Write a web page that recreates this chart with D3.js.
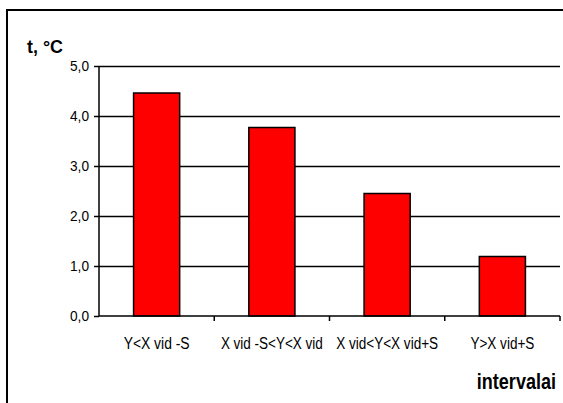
<!DOCTYPE html>
<html><head><meta charset="utf-8">
<script src="https://cdn.jsdelivr.net/npm/d3@7"></script>
<style>html,body{margin:0;padding:0;background:#fff;}svg{display:block;}</style>
</head><body>
<script>
const categories = ["Y<X vid -S", "X vid -S<Y<X vid", "X vid<Y<X vid+S", "Y>X vid+S"];
const values = [4.46, 3.77, 2.45, 1.19];
const yTicks = [0, 1, 2, 3, 4, 5];
const yTitle = "t, °C";
const xTitle = "intervalai";

const W = 563, H = 403;
const m = {left: 99, right: 560, top: 66, bottom: 316};
const FONT = "'Liberation Sans', Arial, sans-serif";
const svg = d3.select("body").append("svg").attr("width", W).attr("height", H);
svg.append("rect").attr("width", W).attr("height", H).attr("fill", "#fff");

// outer frame (extends beyond window at right/bottom)
svg.append("path").attr("d", `M7,${H+5} L7,10 L${W+5},10`).attr("fill", "none")
  .attr("stroke", "#000").attr("stroke-width", 2);

const x = d3.scaleBand().domain(categories).range([m.left, m.right]).paddingInner(0.6).paddingOuter(0.3);
const y = d3.scaleLinear().domain([0, 5]).range([m.bottom, m.top]);

// gridlines via axis
const grid = svg.append("g").attr("transform", `translate(${m.left},0)`)
  .call(d3.axisLeft(y).tickValues(yTicks.filter(d => d > 0)).tickSize(-(m.right - m.left)).tickFormat(""));
grid.select(".domain").remove();
grid.selectAll(".tick line").attr("stroke", "#000").attr("stroke-width", 1.5);

// bars
svg.append("g").selectAll("rect").data(values).join("rect")
  .attr("x", (d, i) => x(categories[i]))
  .attr("width", x.bandwidth())
  .attr("y", d => y(d))
  .attr("height", d => y(0) - y(d))
  .attr("fill", "#ff0000").attr("stroke", "#000").attr("stroke-width", 1.5);

// y axis
const yAxis = d3.axisLeft(y).tickValues(yTicks).tickSize(5).tickPadding(5)
  .tickFormat(d => d3.format(".1f")(d).replace(".", ","));
const gy = svg.append("g").attr("transform", `translate(${m.left},0)`).call(yAxis);
gy.select(".domain").attr("stroke", "#000").attr("stroke-width", 1.5).attr("d", `M0,${m.top}V${m.bottom}`);
gy.selectAll(".tick line").attr("stroke", "#000").attr("stroke-width", 1.5);
gy.selectAll(".tick text").attr("font-family", FONT)
  .attr("font-size", 15).attr("fill", "#000")
  .attr("textLength", 19).attr("lengthAdjust", "spacingAndGlyphs");

// x axis
const xBound = d3.scaleLinear().domain([0, categories.length]).range([m.left, m.right]);
const gx = svg.append("g");
gx.append("line").attr("x1", m.left).attr("x2", m.right).attr("y1", m.bottom).attr("y2", m.bottom)
  .attr("stroke", "#000").attr("stroke-width", 1.5);
gx.selectAll("line.t").data(d3.range(1, categories.length + 1)).join("line").attr("class", "t")
  .attr("x1", d => xBound(d)).attr("x2", d => xBound(d))
  .attr("y1", m.bottom).attr("y2", m.bottom + 5)
  .attr("stroke", "#000").attr("stroke-width", 1.5);
const lblW = [66, 102, 102, 64];
gx.selectAll("text").data(categories).join("text")
  .attr("x", d => x(d) + x.bandwidth() / 2)
  .attr("y", 349)
  .attr("text-anchor", "middle")
  .attr("font-family", FONT)
  .attr("font-size", 16)
  .attr("textLength", (d, i) => lblW[i])
  .attr("lengthAdjust", "spacingAndGlyphs")
  .text(d => d);

// titles
svg.append("text").attr("x", 27).attr("y", 53)
  .attr("font-family", FONT).attr("font-weight", "bold")
  .attr("font-size", 19).attr("textLength", 36).attr("lengthAdjust", "spacingAndGlyphs")
  .text(yTitle);
svg.append("text").attr("transform", "translate(556,389) scale(0.82,1)").attr("text-anchor", "end")
  .attr("font-family", FONT).attr("font-weight", "bold")
  .attr("font-size", 22)
  .text(xTitle);
</script>
</body></html>
